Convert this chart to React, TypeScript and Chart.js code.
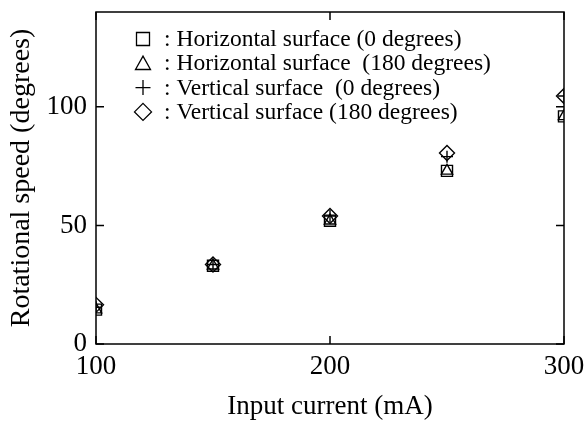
import React, { useEffect, useRef } from "react";
import { Chart, registerables } from "chart.js";

Chart.register(...registerables);

const currents = [100, 150, 200, 250, 300];
const horizontal0 = [14.5, 33, 52, 73, 96];
const horizontal180 = [14.5, 33, 52, 73, 96];
const vertical0 = [15.5, 33.5, 54, 79, 104.6];
const vertical180 = [16.5, 33.5, 54, 80.5, 104.6];

const seriesLabels = [
  ": Horizontal surface (0 degrees)",
  ": Horizontal surface  (180 degrees)",
  ": Vertical surface  (0 degrees)",
  ": Vertical surface (180 degrees)",
];
const xTitle = "Input current (mA)";
const yTitle = "Rotational speed (degrees)";

const FONT = "'Liberation Serif', 'Times New Roman', serif";

function drawMarker(ctx: CanvasRenderingContext2D, style: string, x: number, y: number, s: number) {
  ctx.beginPath();
  if (style === "rect") {
    ctx.rect(x - s / 2, y - s / 2, s, s);
  } else if (style === "triangle") {
    const h = s * 0.95;
    ctx.moveTo(x, y - h / 2 - 1);
    ctx.lineTo(x + s / 2 + 1, y + h / 2);
    ctx.lineTo(x - s / 2 - 1, y + h / 2);
    ctx.closePath();
  } else if (style === "cross") {
    ctx.moveTo(x - s / 2 - 1, y);
    ctx.lineTo(x + s / 2 + 1, y);
    ctx.moveTo(x, y - s / 2 - 1);
    ctx.lineTo(x, y + s / 2 + 1);
  } else {
    const r = s / 2 + 2;
    ctx.moveTo(x, y - r);
    ctx.lineTo(x + r, y);
    ctx.lineTo(x, y + r);
    ctx.lineTo(x - r, y);
    ctx.closePath();
  }
  ctx.stroke();
}

const framePlugin = {
  id: "frameTicks",
  beforeDatasetsDraw(chart: any) {
    const { ctx, chartArea: a, scales } = chart;
    ctx.save();
    ctx.strokeStyle = "#000";
    ctx.lineWidth = 1.5;
    ctx.strokeRect(a.left, a.top, a.right - a.left, a.bottom - a.top);
    ctx.beginPath();
    const xs = scales.x;
    xs.ticks.forEach((t: any) => {
      const px = xs.getPixelForValue(t.value);
      const len = t.value % 100 === 0 ? 8 : 5;
      ctx.moveTo(px, a.bottom);
      ctx.lineTo(px, a.bottom - len);
      ctx.moveTo(px, a.top);
      ctx.lineTo(px, a.top + len);
    });
    const ys = scales.y;
    ys.ticks.forEach((t: any) => {
      const py = ys.getPixelForValue(t.value);
      const len = t.value % 50 === 0 ? 8 : 5;
      ctx.moveTo(a.left, py);
      ctx.lineTo(a.left + len, py);
      ctx.moveTo(a.right, py);
      ctx.lineTo(a.right - len, py);
    });
    ctx.stroke();
    ctx.restore();
  },
  afterDraw(chart: any) {
    const { ctx } = chart;
    ctx.save();
    ctx.strokeStyle = "#000";
    ctx.fillStyle = "#000";
    ctx.lineWidth = 1.3;
    ctx.font = `23.5px ${FONT}`;
    ctx.textBaseline = "alphabetic";
    ctx.textAlign = "left";
    chart.data.datasets.forEach((ds: any, i: number) => {
      const cy = 39 + 24.3 * i;
      drawMarker(ctx, ds.pointStyle, 143, cy, 13);
      ctx.fillText(seriesLabels[i], 164, cy + 7);
    });
    ctx.restore();
  },
};

export default function App() {
  const ref = useRef<HTMLCanvasElement | null>(null);
  useEffect(() => {
    if (!ref.current) return;
    const mk = (vals: number[]) => currents.map((c, i) => ({ x: c, y: vals[i] }));
    const base = {
      showLine: false,
      borderColor: "#000",
      backgroundColor: "rgba(0,0,0,0)",
      pointBorderWidth: 1.4,
    };
    const chart = new Chart(ref.current, {
      type: "scatter",
      data: {
        datasets: [
          { ...base, label: seriesLabels[0], data: mk(horizontal0), pointStyle: "rect", pointRadius: 7.8 },
          { ...base, label: seriesLabels[1], data: mk(horizontal180), pointStyle: "triangle", pointRadius: 6.5 },
          { ...base, label: seriesLabels[2], data: mk(vertical0), pointStyle: "cross", pointRadius: 6 },
          { ...base, label: seriesLabels[3], data: mk(vertical180), pointStyle: "rectRot", pointRadius: 7.5 },
        ],
      },
      options: {
        responsive: false,
        animation: false,
        devicePixelRatio: 1,
        layout: { padding: { top: 12, right: 22, left: 0, bottom: 0 } },
        plugins: { legend: { display: false }, tooltip: { enabled: false } },
        scales: {
          x: {
            type: "linear",
            min: 100,
            max: 300,
            grid: { display: false, drawTicks: false },
            border: { display: false },
            ticks: {
              stepSize: 50,
              autoSkip: false,
              maxRotation: 0,
              padding: 7,
              color: "#000",
              font: { family: FONT, size: 27 },
              callback: (v: any) => (Number(v) % 100 === 0 ? String(v) : null),
            },
            title: {
              display: true,
              text: xTitle,
              color: "#000",
              font: { family: FONT, size: 27 },
              padding: { top: 0, bottom: 0 },
            },
            afterFit: (s: any) => {
              s.height = 79;
              s.paddingLeft = 0;
              s.paddingRight = 0;
            },
          },
          y: {
            type: "linear",
            min: 0,
            max: 140,
            grid: { display: false, drawTicks: false },
            border: { display: false },
            ticks: {
              stepSize: 10,
              autoSkip: false,
              padding: 9,
              color: "#000",
              font: { family: FONT, size: 27 },
              callback: (v: any) => (Number(v) % 50 === 0 ? String(v) : null),
            },
            title: {
              display: true,
              text: yTitle,
              color: "#000",
              font: { family: FONT, size: 28 },
              padding: { top: 5, bottom: 0 },
            },
            afterFit: (s: any) => {
              s.width = 96;
              s.paddingTop = 0;
              s.paddingBottom = 0;
            },
          },
        },
      },
      plugins: [framePlugin],
    } as any);
    return () => chart.destroy();
  }, []);
  return (
    <div style={{ position: "fixed", left: 0, top: 0, width: 586, height: 423, background: "#fff" }}>
      <canvas ref={ref} width={586} height={423} style={{ display: "block" }} />
    </div>
  );
}
